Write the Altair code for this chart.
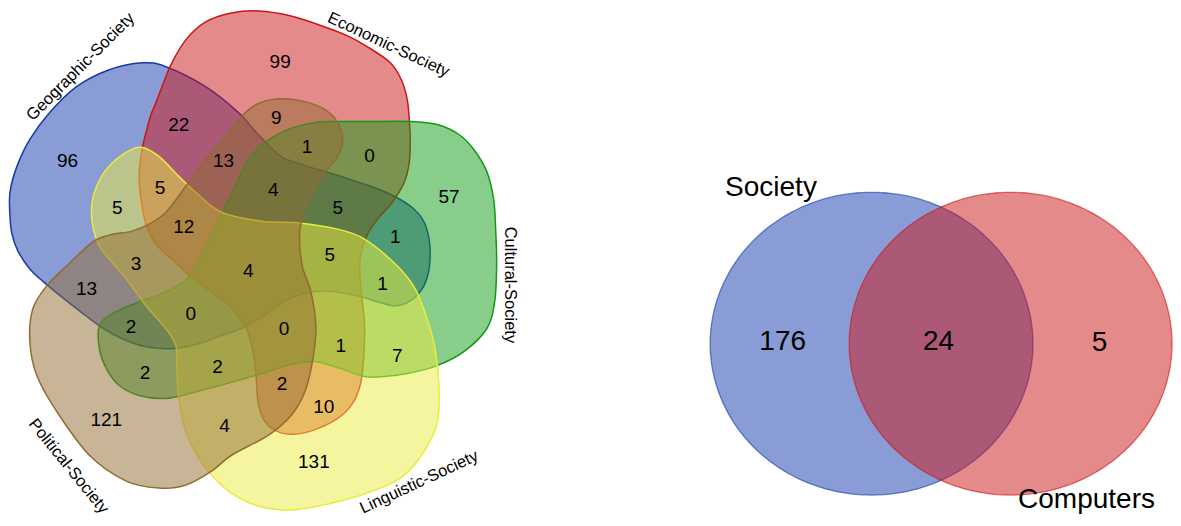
import altair as alt
import numpy as np
import pandas as pd

# ---------------- five-set Venn diagram ----------------
set_names = ["Geographic-Society", "Economic-Society", "Cultural-Society",
             "Linguistic-Society", "Political-Society"]
set_colors = ["#1539AD", "#CB1515", "#119B15", "#EBEB3F", "#916B31"]
set_label_x = [81, 391, 513, 422, 69]
set_label_y = [67, 45, 286, 484, 468]
set_label_angle = [315, 25, 90, 335, 51]

# outlines of the five blobs (diagram units)
geo_x = [10, 10, 17, 30, 50, 77, 110, 143, 167, 207, 240, 260, 283, 310, 340, 373, 397, 417,
         427, 432, 433, 431, 425, 413, 398, 380, 360, 327, 295, 270, 247, 225, 200, 173, 147,
         123, 100, 80, 62, 45, 30, 18, 12]
geo_y = [217, 193, 167, 140, 113, 87, 70, 63, 67, 87, 113, 135, 157, 167, 176, 187, 197, 210,
         223, 240, 258, 275, 290, 302, 307, 303, 297, 292, 298, 314, 328, 336, 345, 350, 348,
         340, 327, 312, 298, 284, 270, 252, 235]

eco_x = [140, 143, 147, 152, 157, 165, 173, 187, 207, 233, 260, 293, 327, 350, 370, 393, 404,
         410, 412, 413, 412, 407, 395, 380, 370, 364, 362, 364, 367, 366, 363, 355, 340, 315,
         293, 277, 266, 260, 258, 255, 248, 232, 210, 190, 173, 157, 147, 142]
eco_y = [177, 150, 133, 115, 103, 82, 63, 40, 22, 13, 11, 16, 27, 36, 47, 63, 80, 100, 120,
         140, 163, 183, 203, 220, 235, 252, 270, 295, 327, 360, 385, 405, 420, 432, 436, 432,
         422, 405, 380, 355, 330, 308, 291, 276, 260, 245, 225, 200]

cul_x = [250, 267, 290, 317, 340, 373, 413, 440, 462, 477, 490, 497, 499, 500, 498, 490, 467,
         440, 410, 387, 367, 343, 317, 293, 257, 225, 195, 167, 140, 120, 107, 100, 100, 113,
         140, 167, 190, 207, 223, 237]
cul_y = [160, 143, 130, 123, 122, 122, 122, 125, 135, 150, 172, 200, 230, 265, 303, 330, 353,
         367, 375, 378, 378, 370, 363, 366, 377, 386, 394, 400, 397, 387, 370, 350, 327, 315,
         303, 293, 278, 247, 215, 187]

lin_x = [143, 160, 180, 197, 223, 263, 303, 340, 367, 400, 418, 430, 438, 442, 440, 427, 407,
         383, 343, 293, 260, 233, 213, 200, 187, 180, 178, 177, 167, 147, 127, 110, 100, 94,
         92, 95, 107, 127]
lin_y = [148, 157, 177, 193, 213, 222, 224, 230, 240, 267, 290, 320, 350, 390, 425, 453, 477,
         490, 503, 512, 508, 495, 477, 460, 433, 400, 370, 347, 330, 307, 280, 260, 247, 230,
         213, 193, 170, 153]

pol_x = [30, 33, 47, 67, 93, 110, 133, 150, 167, 187, 207, 230, 247, 262, 283, 307, 327, 340,
         345, 340, 327, 317, 307, 302, 302, 305, 313, 318, 315, 307, 293, 270, 233, 213, 187,
         160, 127, 90, 57, 37]
pol_y = [343, 310, 287, 267, 243, 236, 232, 225, 213, 187, 160, 133, 113, 103, 99, 102, 110,
         123, 140, 157, 173, 190, 210, 230, 250, 270, 293, 327, 360, 393, 417, 437, 457, 473,
         487, 490, 483, 457, 413, 377]

set_outline_x = [geo_x, eco_x, cul_x, lin_x, pol_x]
set_outline_y = [geo_y, eco_y, cul_y, lin_y, pol_y]

# region counts and their label anchors
region_counts = [96, 99, 22, 9, 13, 1, 0, 57, 5, 5,
                 4, 5, 1, 12, 3, 4, 5, 1, 13, 2,
                 0, 0, 1, 7, 2, 2, 2, 10, 121, 4, 131]
region_x = [68, 282, 180, 278, 225, 309, 372, 452, 118, 161,
            275, 340, 398, 185, 137, 250, 332, 385, 87, 132,
            192, 286, 343, 400, 146, 219, 284, 326, 107, 226, 316]
region_y = [162, 62, 125, 118, 162, 148, 157, 198, 209, 189,
            191, 209, 238, 228, 265, 272, 256, 285, 290, 328,
            315, 330, 347, 357, 374, 368, 385, 409, 422, 428, 464]

# ---------------- two-set Venn diagram ----------------
two_names = ["Society", "Computers"]
two_colors = ["#1539AD", "#CB1515"]
two_center_x = [877.5, 1017.5]
two_center_y = [345, 345]
two_radius_x = [162.5, 162.5]
two_radius_y = [152, 152]
two_label_x = [730, 1025]
two_label_y = [197, 510]
two_counts = [176, 24, 5]
two_count_x = [788, 945, 1107]
two_count_y = [343, 343, 344]

FONT = "Liberation Sans"
xs = alt.Scale(domain=[8, 1181], nice=False, zero=False)
ys = alt.Scale(domain=[8, 520], nice=False, zero=False, reverse=True)
X = alt.X("x:Q", scale=xs, axis=None)
Y = alt.Y("y:Q", scale=ys, axis=None)


def polygon(df, color, width, stroke_opacity):
    return alt.Chart(df).mark_line(
        filled=True, interpolate="cardinal-closed", fill=color, fillOpacity=0.5,
        stroke=color, strokeWidth=width, strokeOpacity=stroke_opacity,
    ).encode(x=X, y=Y, order=alt.Order("order:Q"))


layers = []
for name, color, ox, oy in zip(set_names, set_colors, set_outline_x, set_outline_y):
    df = pd.DataFrame({"set": name, "order": np.arange(len(ox)), "x": ox, "y": oy})
    layers.append(polygon(df, color, 1.5, 1.0))

theta = np.linspace(0, 2 * np.pi, 160, endpoint=False)
for name, color, ex, ey, rx, ry in zip(two_names, two_colors, two_center_x,
                                       two_center_y, two_radius_x, two_radius_y):
    df = pd.DataFrame({"set": name, "order": np.arange(len(theta)),
                       "x": ex + rx * np.cos(theta), "y": ey + ry * np.sin(theta)})
    layers.append(polygon(df, color, 1.3, 0.6))

counts_df = pd.DataFrame({"n": [str(v) for v in region_counts], "x": region_x, "y": region_y})
layers.append(alt.Chart(counts_df).mark_text(
    font=FONT, fontSize=19, color="black", align="center", baseline="middle"
).encode(x=X, y=Y, text="n:N"))

labels_df = pd.DataFrame({"name": set_names, "x": set_label_x, "y": set_label_y,
                          "angle": set_label_angle})
layers.append(alt.Chart(labels_df).mark_text(
    font=FONT, fontSize=16.5, color="black", align="center", baseline="middle"
).encode(x=X, y=Y, text="name:N", angle=alt.Angle("angle:Q", scale=None)))

two_counts_df = pd.DataFrame({"n": [str(v) for v in two_counts], "x": two_count_x, "y": two_count_y})
layers.append(alt.Chart(two_counts_df).mark_text(
    font=FONT, fontSize=28, color="black", align="center", baseline="middle"
).encode(x=X, y=Y, text="n:N"))

two_labels_df = pd.DataFrame({"name": two_names, "x": two_label_x, "y": two_label_y})
layers.append(alt.Chart(two_labels_df).mark_text(
    font=FONT, fontSize=28, color="black", align="left", baseline="alphabetic"
).encode(x=X, y=Y, text="name:N"))

chart = alt.layer(*layers).properties(
    width=1165, height=510, padding=0,
    autosize=alt.AutoSizeParams(type="none"),
).configure_view(stroke=None)

chart.save("out.html", embed_options={"renderer": "svg", "actions": False})
